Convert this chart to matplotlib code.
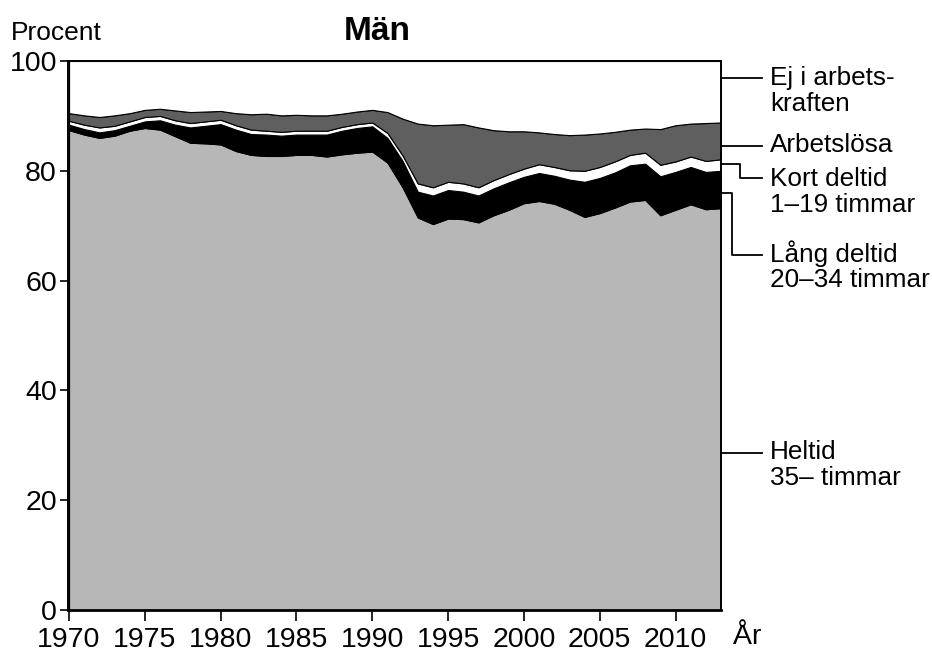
import matplotlib
matplotlib.use('Agg')
import matplotlib.pyplot as plt
import numpy as np

plt.rcParams['font.family'] = ['Liberation Sans', 'DejaVu Sans']

# data (procent av befolkningen, män)
years = np.arange(1970, 2014)
heltid = [87.4, 86.6, 86.0, 86.4, 87.3, 87.8, 87.5, 86.3, 85.1, 85.0,
          84.8, 83.6, 82.9, 82.7, 82.7, 82.9, 82.9, 82.6, 83.0, 83.3,
          83.5, 81.5, 77.0, 71.5, 70.3, 71.3, 71.2, 70.6, 71.9, 72.9,
          74.1, 74.5, 74.0, 72.9, 71.6, 72.3, 73.3, 74.4, 74.7, 71.9,
          72.9, 73.9, 73.0, 73.2]
lang_deltid = [1.0, 1.0, 1.0, 1.0, 0.9, 1.2, 1.7, 2.1, 2.8, 3.2,
               3.7, 3.9, 3.8, 3.9, 3.7, 3.7, 3.7, 4.0, 4.3, 4.5,
               4.6, 4.5, 4.8, 4.7, 5.2, 5.2, 5.0, 4.9, 4.9, 5.0,
               4.8, 5.1, 5.1, 5.5, 6.4, 6.4, 6.4, 6.6, 6.6, 7.1,
               6.9, 6.8, 6.8, 6.8]
kort_deltid = [0.7, 0.8, 0.9, 0.8, 0.8, 0.8, 0.8, 0.8, 0.8, 0.8,
               0.8, 0.8, 0.8, 0.7, 0.7, 0.7, 0.7, 0.7, 0.7, 0.7,
               0.7, 0.9, 1.0, 1.5, 1.5, 1.5, 1.5, 1.5, 1.5, 1.5,
               1.5, 1.6, 1.6, 1.7, 2.0, 2.0, 2.0, 1.9, 2.0, 2.1,
               1.9, 1.9, 2.0, 2.1]
arbetslosa = [1.4, 1.7, 1.9, 1.9, 1.5, 1.3, 1.3, 1.8, 2.0, 1.8,
              1.6, 2.2, 2.8, 3.1, 3.0, 2.9, 2.8, 2.8, 2.4, 2.3,
              2.3, 3.8, 6.7, 10.9, 11.3, 10.4, 10.8, 10.9, 9.1, 7.8,
              6.8, 5.8, 6.0, 6.4, 6.6, 6.1, 5.4, 4.6, 4.4, 6.5,
              6.6, 6.0, 6.9, 6.7]
ej_arbetskraften = 100 - (np.array(heltid) + np.array(lang_deltid)
                          + np.array(kort_deltid) + np.array(arbetslosa))

W, H = 932, 653
fig = plt.figure(figsize=(W / 100, H / 100), dpi=100)
ax = fig.add_axes([68 / W, 1 - 610 / H, (721 - 68) / W, (610 - 61) / H])

ax.stackplot(years, heltid, lang_deltid, kort_deltid, arbetslosa, ej_arbetskraften,
             colors=['#b7b7b7', 'black', 'white', '#5f5f5f', 'white'],
             edgecolor='black', linewidth=0.8)

ax.set_xlim(1969.93, 2013)
ax.set_ylim(0, 100)
ax.set_xticks(range(1970, 2011, 5))
ax.set_yticks(range(0, 101, 20))
ax.tick_params(labelsize=20.5, width=1.2, direction='out')
ax.tick_params(axis='x', length=8, pad=4)
ax.tick_params(axis='y', length=6, pad=2)
for s in ax.spines.values():
    s.set_linewidth(1.4)
ax.spines['bottom'].set_linewidth(2)


def px(x, y):
    return x / W, 1 - y / H


fig.text(*px(11, 33), 'Procent', fontsize=19, va='center', ha='left')
fig.text(*px(377, 32), 'Män', fontsize=24, fontweight='bold', va='center', ha='center')
fig.text(*px(733, 637), 'År', fontsize=20.5, va='center', ha='left')

# etiketter till höger
labels = [
    (['Ej i arbets-', 'kraften'], 78, [(721, 78), (762, 78)]),
    (['Arbetslösa'], 145, [(721, 146), (762, 146)]),
    (['Kort deltid', '1–19 timmar'], 179, [(721, 164), (740, 164), (740, 178), (762, 178)]),
    (['Lång deltid', '20–34 timmar'], 254, [(721, 193), (732, 193), (732, 255), (762, 255)]),
    (['Heltid', '35– timmar'], 452, [(721, 453), (762, 453)]),
]
for lines, y0, path in labels:
    for i, t in enumerate(lines):
        fig.text(*px(770, y0 + i * 26), t, fontsize=18.8, va='center', ha='left')
    xs = [p[0] / W for p in path]
    ys = [1 - p[1] / H for p in path]
    fig.add_artist(plt.Line2D(xs, ys, color='black', linewidth=1.3,
                              transform=fig.transFigure))

fig.savefig('out.png', dpi=100)
